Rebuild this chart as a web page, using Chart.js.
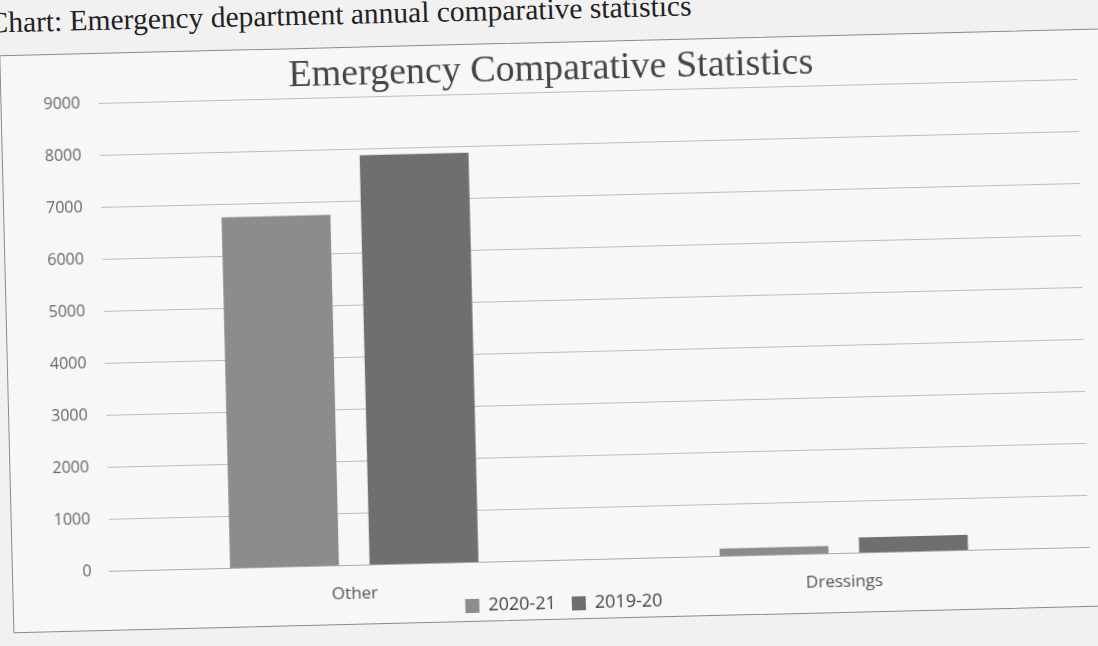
<!DOCTYPE html>
<html>
<head>
<meta charset="utf-8">
<script src="https://cdn.jsdelivr.net/npm/chart.js@4/dist/chart.umd.min.js"></script>
<style>
  html, body { margin: 0; padding: 0; background: #f1f1f1; overflow: hidden; }
  #page {
    position: absolute; left: 0; top: 0; width: 1098px; height: 646px;
    transform: rotate(-1.4deg); transform-origin: 50% 50%;
  }
  #caption {
    position: absolute; left: -4px; top: -7px;
    font-family: "Liberation Serif", serif; font-size: 29.5px; color: #222;
    white-space: nowrap;
  }
  #box {
    position: absolute; left: 6px; top: 42px; width: 1110px; height: 576px;
    border: 1px solid #8a8a8a; background: #f7f7f7;
  }
  #chart { position: absolute; left: 0; top: 0; }
</style>
</head>
<body>
<div id="page">
  <div id="caption">Chart: Emergency department annual comparative statistics</div>
  <div id="box"><canvas id="chart" width="1090" height="610"></canvas></div>
</div>
<script>
const categories = ['Other', 'Dressings'];
const series2021 = [6750, 150];
const series1920 = [7880, 300];
const seriesLabels = ['2020-21', '2019-20'];
const yTicks = [0, 1000, 2000, 3000, 4000, 5000, 6000, 7000, 8000, 9000];

// legend sits tucked up between the two category labels
const legendShift = {
    id: 'legendShift',
    afterLayout(chart) {
        chart.legend.top -= 30;
        chart.legend.bottom -= 30;
    }
};

let ctx = document.getElementById('chart').getContext('2d');
let chart = new Chart(ctx, {
    type: 'bar',
    data: {
        labels: categories,
        datasets: [{
            label: seriesLabels[0],
            data: series2021,
            backgroundColor: '#8c8c8c'
        }, {
            label: seriesLabels[1],
            data: series1920,
            backgroundColor: '#6f6f6f'
        }]
    },
    options: {
        responsive: false,
        animation: false,
        layout: { padding: { left: 24, right: 14, top: 2, bottom: 0 } },
        datasets: { bar: { barPercentage: 0.78, categoryPercentage: 0.57 } },
        plugins: {
            title: {
                display: true,
                text: 'Emergency Comparative Statistics',
                color: '#454545',
                font: { family: 'Liberation Serif', size: 38, weight: 'normal' },
                padding: { top: 2, bottom: 0 }
            },
            legend: {
                position: 'bottom',
                labels: {
                    boxWidth: 14, boxHeight: 14, color: '#444', padding: 16,
                    font: { family: 'Open Sans', size: 18 }
                }
            },
            tooltip: { enabled: false }
        },
        scales: {
            x: {
                grid: { display: false },
                border: { color: '#aaa' },
                ticks: { color: '#555', font: { family: 'Open Sans', size: 17 }, padding: 10 }
            },
            y: {
                min: 0, max: 9000,
                afterBuildTicks: (axis) => { axis.ticks = yTicks.map(v => ({ value: v })); },
                ticks: {
                    color: '#666', font: { family: 'Open Sans', size: 16 }, padding: 18,
                    callback: (v) => String(v)
                },
                grid: { color: '#bdbdbd', drawTicks: false },
                border: { display: false }
            }
        }
    },
    plugins: [legendShift]
});
</script>
</body>
</html>
